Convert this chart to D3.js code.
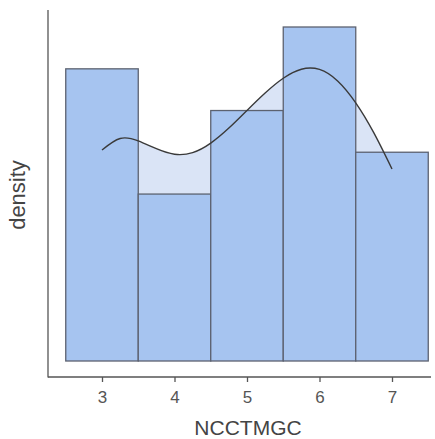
<!DOCTYPE html>
<html><head><meta charset="utf-8">
<script src="https://cdn.jsdelivr.net/npm/d3@7"></script>
<style>html,body{margin:0;padding:0;background:#fff;}svg{display:block;}</style>
</head><body>
<svg id="chart" width="435" height="439"></svg>
<script>
// Histogram bins (centers) and densities
const binCenters = [3, 4, 5, 6, 7];
const binDensity = [0.2333, 0.1333, 0.2000, 0.2667, 0.1667];
// Density curve
const kdeX = [3.0, 3.25, 3.5, 3.75, 4.0, 4.25, 4.5, 4.75, 5.0, 5.25, 5.5, 5.75, 6.0, 6.25, 6.5, 6.75, 7.0];
const kdeY = [0.1685, 0.1777, 0.1758, 0.1695, 0.1651, 0.1664, 0.1740, 0.1860, 0.2001, 0.2140, 0.2258, 0.2330, 0.2328, 0.2236, 0.2061, 0.1821, 0.1533];
const xTicks = [3, 4, 5, 6, 7];
const xLabel = "NCCTMGC";
const yLabel = "density";

const svg = d3.select("#chart");
const x = d3.scaleLinear().domain([3, 7]).range([102, 392]);
const y = d3.scaleLinear().domain([0, 0.2667]).range([361, 27]);
const binW = 1;
const font = "Liberation Sans, Arial, sans-serif";

const pts = kdeX.map((d, i) => [d, kdeY[i]]);

// density area
svg.append("path")
  .datum(pts)
  .attr("d", d3.area().x(d => x(d[0])).y0(y(0)).y1(d => y(d[1])).curve(d3.curveNatural))
  .attr("fill", "#dae4f6");

// bars
svg.append("g").selectAll("rect").data(binCenters).join("rect")
  .attr("x", d => x(d - binW / 2))
  .attr("width", d => x(d + binW / 2) - x(d - binW / 2))
  .attr("y", (d, i) => y(binDensity[i]))
  .attr("height", (d, i) => y(0) - y(binDensity[i]))
  .attr("fill", "#a6c4f0")
  .attr("stroke", "#5c6270")
  .attr("stroke-width", 1.3);

// curve line
svg.append("path")
  .datum(pts)
  .attr("d", d3.line().x(d => x(d[0])).y(d => y(d[1])).curve(d3.curveNatural))
  .attr("fill", "none")
  .attr("stroke", "#3a3a3a")
  .attr("stroke-width", 1.4);

// axes
const axisColor = "#555";
svg.append("line").attr("x1", 48).attr("x2", 48).attr("y1", 10).attr("y2", 377.5)
  .attr("stroke", axisColor).attr("stroke-width", 1.3);
const gx = svg.append("g").attr("transform", "translate(0,377)")
  .call(d3.axisBottom(x).tickValues(xTicks).tickSize(5).tickSizeOuter(0).tickPadding(9).tickFormat(d3.format("d")));
gx.select(".domain").remove();
gx.append("line").attr("x1", 48).attr("x2", 431).attr("y1", 0).attr("y2", 0)
  .attr("stroke", axisColor).attr("stroke-width", 1.3);
gx.selectAll(".tick line").attr("stroke", axisColor).attr("stroke-width", 1.3);
gx.selectAll(".tick text").attr("fill", "#555").attr("font-size", 17)
  .attr("font-family", font);

svg.append("text").attr("x", 248).attr("y", 435)
  .attr("text-anchor", "middle").attr("font-size", 21)
  .attr("font-family", font).attr("fill", "#444")
  .text(xLabel);
svg.append("text").attr("transform", "translate(25,195) rotate(-90)")
  .attr("text-anchor", "middle").attr("font-size", 22)
  .attr("font-family", font).attr("fill", "#444")
  .text(yLabel);
</script>
</body></html>
